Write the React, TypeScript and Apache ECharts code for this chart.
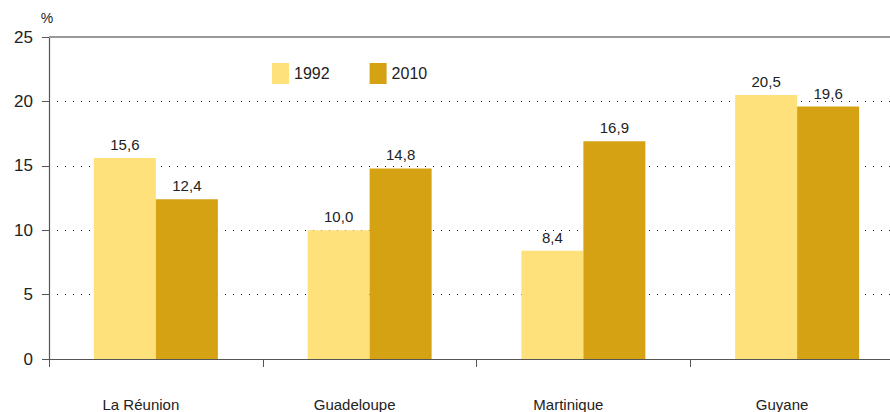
import React, { useEffect, useRef } from "react";
import * as echarts from "echarts";

const categories = ["La Réunion", "Guadeloupe", "Martinique", "Guyane"];
const values1992 = [15.6, 10.0, 8.4, 20.5];
const values2010 = [12.4, 14.8, 16.9, 19.6];
const yTicks = { min: 0, max: 25, interval: 5 };

const FONT = "Liberation Sans, Arial, sans-serif";
const fmt = (v: number) => v.toFixed(1).replace(".", ",");

export default function App() {
  const ref = useRef<HTMLDivElement>(null);
  useEffect(() => {
    if (!ref.current) return;
    const chart = echarts.init(ref.current, undefined, { renderer: "svg" });
    const label = {
      show: true,
      position: "top" as const,
      distance: 6,
      fontFamily: FONT,
      fontSize: 15,
      color: "#222",
      formatter: (p: any) => fmt(p.value),
    };
    chart.setOption({
      animation: false,
      textStyle: { fontFamily: FONT },
      grid: { left: 49, right: 0, top: 37, bottom: 53, containLabel: false },
      legend: {
        left: 267,
        top: 58,
        itemWidth: 17,
        itemHeight: 21,
        itemGap: 40,
        icon: "rect",
        textStyle: { fontFamily: FONT, fontSize: 16, color: "#222" },
        data: ["1992", "2010"],
      },
      xAxis: {
        type: "category",
        data: categories,
        axisLine: { lineStyle: { color: "#555", width: 1 } },
        axisTick: { show: true, length: 8, lineStyle: { color: "#555" } },
        axisLabel: {
          margin: 38,
          fontFamily: FONT,
          fontSize: 15,
          color: "#222",
          padding: [0, 30, 0, 0],
        },
      },
      yAxis: {
        type: "value",
        min: yTicks.min,
        max: yTicks.max,
        interval: yTicks.interval,
        name: "%",
        nameLocation: "end",
        nameGap: 12,
        nameTextStyle: { fontFamily: FONT, fontSize: 14, color: "#222", align: "center", padding: [0, 4, 0, 0] },
        axisLine: { show: true, lineStyle: { color: "#555", width: 1.2 } },
        axisTick: { show: true, length: 7, lineStyle: { color: "#555" } },
        axisLabel: { margin: 16, fontFamily: FONT, fontSize: 17, color: "#222" },
        splitLine: { show: true, lineStyle: { color: "#222", type: [1, 7], width: 1 } },
      },
      series: [
        {
          name: "1992",
          type: "bar",
          data: values1992,
          barWidth: 62,
          barGap: "0%",
          itemStyle: { color: "#FEE17B" },
          label,
          markLine: {
            silent: true,
            symbol: "none",
            label: { show: false },
            lineStyle: { color: "#999", type: "solid", width: 2 },
            data: [{ yAxis: 25 }],
          },
        },
        {
          name: "2010",
          type: "bar",
          data: values2010,
          barWidth: 62,
          barGap: "0%",
          itemStyle: { color: "#D5A214" },
          label,
        },
      ],
    });
    return () => chart.dispose();
  }, []);
  return (
    <div style={{ width: 890, height: 412, position: "absolute", left: 0, top: 0, overflow: "hidden" }}>
      <div ref={ref} style={{ width: 904, height: 412 }} />
    </div>
  );
}
